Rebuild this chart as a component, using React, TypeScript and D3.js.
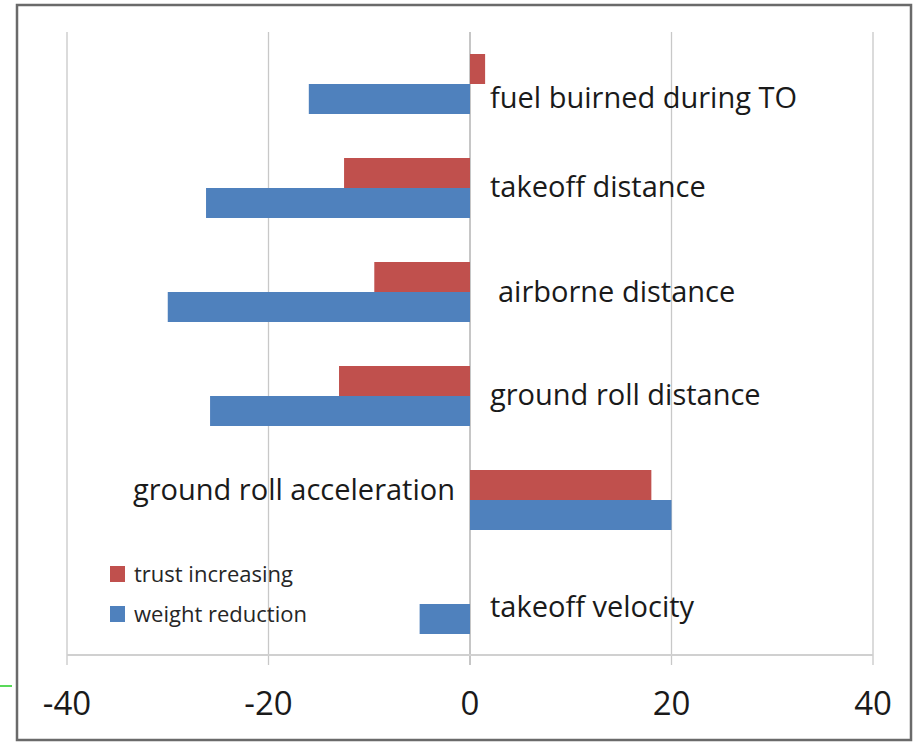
import React from "react";
import * as d3 from "d3";

const categories = [
  "fuel buirned during TO",
  "takeoff distance",
  "airborne distance",
  "ground roll distance",
  "ground roll acceleration",
  "takeoff velocity",
];
const trustIncreasing = [1.5, -12.5, -9.5, -13, 18, 0];
const weightReduction = [-16, -26.2, -30, -25.8, 20, -5];
const xTicks = [-40, -20, 0, 20, 40];
const seriesNames = ["trust increasing", "weight reduction"];

// layout tweaks for the free-floating category labels
const labelDx = [20, 20, 28, 20, -15, 20];
const labelDy = [14, -1, 0, -1, -10, 3];

const W = 915;
const H = 743;
const RED = "#C0504D";
const BLUE = "#4F81BD";
const FONT = "'Open Sans', 'DejaVu Sans', sans-serif";

export default function App() {
  const x = d3.scaleLinear().domain([-40, 40]).range([67, 873]);
  const y = d3.scaleBand<string>().domain(categories).range([32, 656]).padding(0);
  const barH = 30;
  const series = [
    { name: seriesNames[0], values: trustIncreasing, color: RED, off: -barH },
    { name: seriesNames[1], values: weightReduction, color: BLUE, off: 0 },
  ];
  const axisY = 655;
  return (
    <svg
      width={W}
      height={H}
      style={{ position: "absolute", left: 0, top: 0, background: "#fff" }}
      fontFamily={FONT}
    >
      <rect x={0} y={0} width={W} height={H} fill="#fff" />
      {/* frame */}
      <rect x={17} y={5} width={894} height={735} fill="none" stroke="#6a6a6a" strokeWidth={2.5} />
      {/* gridlines */}
      {xTicks.map((t) => (
        <line
          key={"g" + t}
          x1={x(t)}
          x2={x(t)}
          y1={32}
          y2={665}
          stroke={t === 0 ? "#a8a8a8" : "#c8c8c8"}
          strokeWidth={1.3}
        />
      ))}
      {/* axis line */}
      <line x1={x(-40)} x2={x(40)} y1={axisY} y2={axisY} stroke="#d0d0d0" strokeWidth={2} />
      {/* bars */}
      {series.map((s) =>
        categories.map((c, i) => {
          const v = s.values[i];
          if (v === 0) return null;
          const cy = (y(c) as number) + y.bandwidth() / 2;
          return (
            <rect
              key={s.name + c}
              x={Math.min(x(0), x(v))}
              y={cy + s.off}
              width={Math.abs(x(v) - x(0))}
              height={barH}
              fill={s.color}
            />
          );
        })
      )}
      {/* category labels */}
      {categories.map((c, i) => {
        const cy = (y(c) as number) + y.bandwidth() / 2;
        return (
          <text
            key={"l" + c}
            x={x(0) + labelDx[i]}
            y={cy + labelDy[i]}
            dy="0.35em"
            fontSize={29}
            fill="#1a1a1a"
            textAnchor={labelDx[i] < 0 ? "end" : "start"}
          >
            {c}
          </text>
        );
      })}
      {/* tick labels */}
      {xTicks.map((t) => (
        <text key={"t" + t} x={x(t)} y={715} fontSize={33} textAnchor="middle" fill="#1a1a1a">
          {t}
        </text>
      ))}
      {/* legend */}
      {series.map((s, i) => (
        <g key={"lg" + s.name} transform={`translate(110, ${566 + i * 40})`}>
          <rect x={0} y={0} width={15} height={16} fill={s.color} />
          <text x={24} y={8} dy="0.35em" fontSize={22} fill="#262626">
            {s.name}
          </text>
        </g>
      ))}
      {/* stray green mark at left edge */}
      <line x1={0} x2={12} y1={686} y2={686} stroke="#22cc22" strokeWidth={1.5} />
    </svg>
  );
}
